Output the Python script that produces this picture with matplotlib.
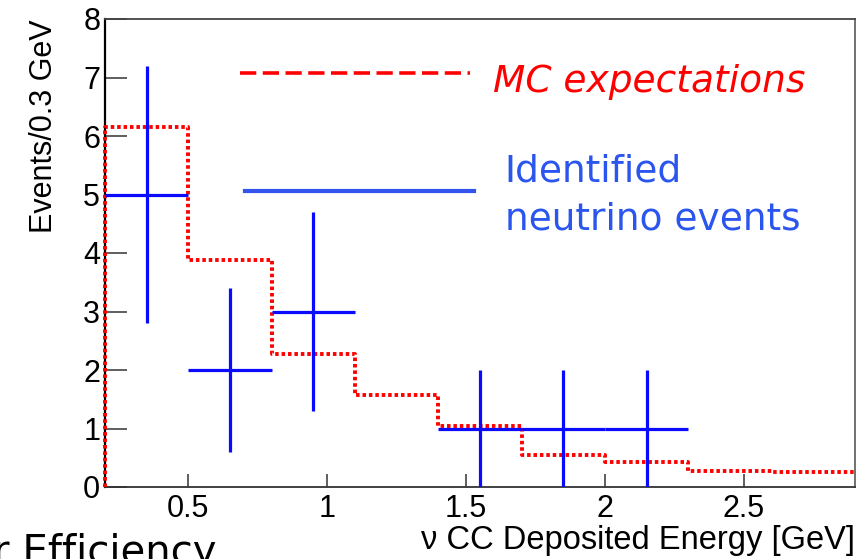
import numpy as np
import matplotlib
matplotlib.use("Agg")
import matplotlib.pyplot as plt

# MC expectation histogram (bin edges in GeV, events per 0.3 GeV)
mc_edges = [0.2, 0.5, 0.8, 1.1, 1.4, 1.7, 2.0, 2.3, 2.6, 2.9]
mc_values = [6.15, 3.88, 2.28, 1.57, 1.05, 0.55, 0.42, 0.28, 0.25]

# identified neutrino events
data_x = [0.35, 0.65, 0.95, 1.55, 1.85, 2.15]
data_y = [5, 2, 3, 1, 1, 1]
data_xerr = [0.15, 0.15, 0.15, 0.15, 0.15, 0.15]
data_yerr = [2.2, 1.4, 1.7, 1.0, 1.0, 1.0]

xticks = [0.5, 1, 1.5, 2, 2.5]
xticklabels = ["0.5", "1", "1.5", "2", "2.5"]
yticks = [0, 1, 2, 3, 4, 5, 6, 7, 8]

W, H = 868, 559
fig = plt.figure(figsize=(W / 100, H / 100), dpi=100)
ax = fig.add_axes([105 / W, 1 - 487 / H, 750 / W, 468 / H])

# MC step line, closed down to zero on the left edge
step_x = [mc_edges[0]] + mc_edges
step_y = [0] + mc_values + [mc_values[-1]]
ax.plot(step_x, step_y, drawstyle="steps-post", color="#ff0000", lw=2.8,
        linestyle=(0, (0.9, 0.75)), zorder=3, clip_on=False)

ax.errorbar(data_x, data_y, xerr=data_xerr, yerr=data_yerr, fmt="none",
            ecolor="#0a0aff", elinewidth=2.3, capsize=0, zorder=4)

ax.set_xlim(0.2, 2.9)
ax.set_ylim(0, 8)
ax.set_xticks(xticks)
ax.set_xticklabels(xticklabels)
ax.set_yticks(yticks)
ax.set_yticklabels([str(y) for y in yticks])

for lab in ax.get_xticklabels() + ax.get_yticklabels():
    lab.set_fontfamily("Liberation Sans")
    lab.set_fontsize(22)
ax.tick_params(axis="y", direction="in", length=16, width=1.1, color="#333333",
               pad=3.5, right=False)
ax.tick_params(axis="x", direction="in", length=9.5, width=1.1, color="#333333",
               pad=5, top=False)

ax.spines["left"].set_color("black")
ax.spines["left"].set_linewidth(1.6)
ax.spines["bottom"].set_color("#333333")
ax.spines["bottom"].set_linewidth(1.3)
ax.spines["top"].set_color("#444444")
ax.spines["top"].set_linewidth(1.3)
ax.spines["right"].set_color("#666666")
ax.spines["right"].set_linewidth(1.3)

ax.set_xlabel("\u03bd CC Deposited Energy [GeV]", loc="right",
              family="Liberation Sans", fontsize=23.5, labelpad=1)
ax.set_ylabel("Events/0.3 GeV", loc="top", family="Liberation Sans",
              fontsize=22, labelpad=17)

# hand-drawn legend
ax.plot([0.18, 0.487], [0.885, 0.885], transform=ax.transAxes, color="#ff0000",
        lw=2.6, linestyle=(0, (4.5, 1.8)))
ax.text(0.517, 0.844, "MC expectations", transform=ax.transAxes,
        color="#ff0000", fontsize=27, style="italic", va="baseline")
ax.plot([0.187, 0.492], [0.6335, 0.6335], transform=ax.transAxes,
        color="#3355ee", lw=3)
ax.text(0.533, 0.652, "Identified", transform=ax.transAxes,
        color="#2a55ee", fontsize=27, va="baseline")
ax.text(0.533, 0.551, "neutrino events", transform=ax.transAxes,
        color="#2a55ee", fontsize=27, va="baseline")

# leftover slide text cut by the bottom edge
fig.text(-7 / W, 1 - 564 / H, "r Efficiency", fontsize=29, va="baseline")

fig.savefig("out.png", dpi=100)
